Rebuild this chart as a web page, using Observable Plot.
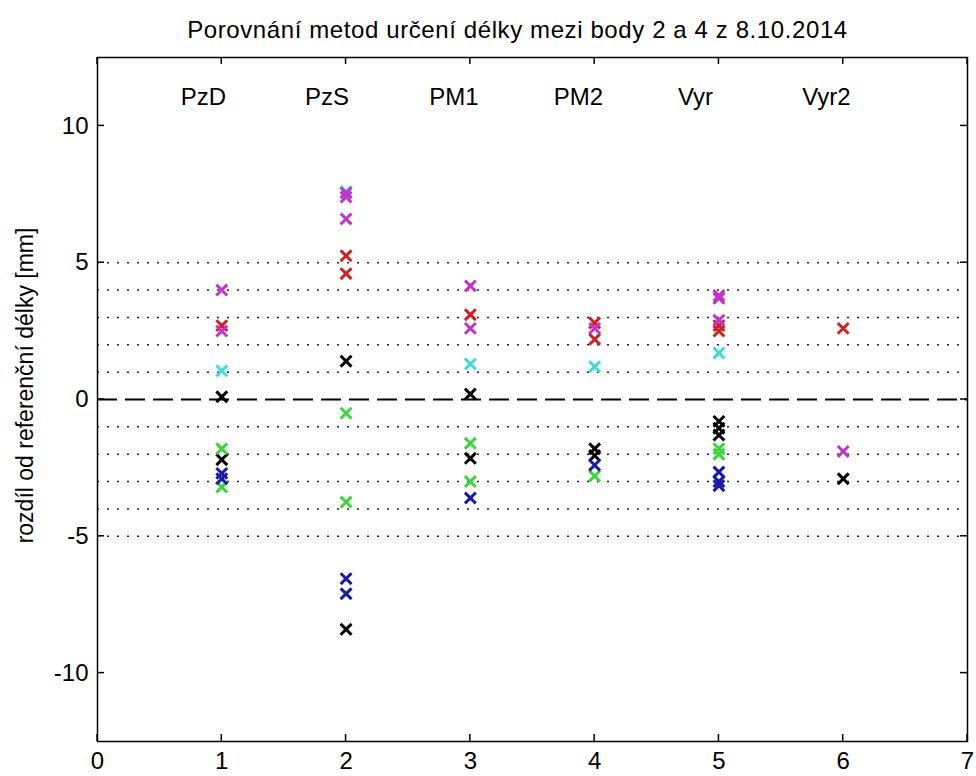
<!DOCTYPE html>
<html>
<head>
<meta charset="utf-8">
<script src="https://cdn.jsdelivr.net/npm/d3@7"></script>
<script src="https://cdn.jsdelivr.net/npm/@observablehq/plot@0.6"></script>
<style>
  body { margin: 0; background: #fff; }
</style>
</head>
<body>
<div id="chart"></div>
<script>
// Methods compared (x = 1..6)
const methods = ["PzD", "PzS", "PM1", "PM2", "Vyr", "Vyr2"];
const xTicks = [0, 1, 2, 3, 4, 5, 6, 7];
const yTicks = [-10, -5, 0, 5, 10];
const gridLevels = [-5, -4, -3, -2, -1, 1, 2, 3, 4, 5];
const titleText = "Porovnání metod určení délky mezi body 2 a 4 z 8.10.2014";
const yLabelText = "rozdíl od referenční délky [mm]";

// Differences from reference length [mm], one array per colour,
// each holding one list per method (PzD, PzS, PM1, PM2, Vyr, Vyr2)
const cyanVals    = [[1.05], [7.6], [1.3], [1.2], [1.7], []];
const redVals     = [[2.7], [5.25, 4.6], [3.1], [2.8, 2.2], [2.7, 2.5], [2.6]];
const magentaVals = [[4.0, 2.5], [7.55, 7.4, 6.6], [4.15, 2.6], [2.6], [3.8, 3.7, 2.9], [-1.9]];
const blackVals   = [[0.1, -2.2], [1.4, -8.4], [0.2, -2.15], [-1.8, -2.05], [-0.8, -1.05, -1.3], [-2.9]];
const greenVals   = [[-1.8, -3.2], [-0.5, -3.75], [-1.6, -3.0], [-2.8], [-1.8, -2.0], []];
const blueVals    = [[-2.7, -2.9], [-6.55, -7.1], [-3.6], [-2.4], [-2.65, -3.0, -3.15], []];

const seriesList = [cyanVals, redVals, magentaVals, blackVals, greenVals, blueVals];
const seriesColors = ["#40dcdc", "#d02020", "#c034c8", "#000000", "#3cd63c", "#1a1aa8"];

const points = [];
seriesList.forEach((series, s) => {
  series.forEach((vals, m) => {
    vals.forEach(v => points.push({method: m + 1, diff: v, color: seriesColors[s]}));
  });
});

const font = "'Liberation Sans', Arial, sans-serif";
const tickLen = 7;

const chart = Plot.plot({
  width: 976,
  height: 776,
  marginLeft: 97,
  marginRight: 9,
  marginTop: 57,
  marginBottom: 35,
  x: {domain: [0, 7]},
  y: {domain: [-12.5, 12.5]},
  color: {type: "identity"},
  style: {fontFamily: font, fontSize: "24px", background: "#fff", color: "#000"},
  marks: [
    // dotted reference levels
    Plot.ruleY(gridLevels, {stroke: "#222", strokeWidth: 1.5, strokeDasharray: "2,8"}),
    // zero line
    Plot.ruleY([0], {stroke: "#000", strokeWidth: 2, strokeDasharray: "20,8"}),
    // measurements
    Plot.dot(points, {x: "method", y: "diff", symbol: "times", r: 5, stroke: "color", strokeWidth: 3}),
    // method names
    Plot.text(methods, {x: (d, i) => i + 1, frameAnchor: "top", lineAnchor: "middle", textAnchor: "start", dx: -41, dy: 40, text: d => d, fontSize: 24}),
    // tick labels
    Plot.axisX({anchor: "bottom", ticks: xTicks, tickSize: 0, tickPadding: 10, tickFormat: d => String(d), label: null, fontSize: 24}),
    Plot.axisY({anchor: "left", ticks: yTicks, tickSize: 0, tickPadding: 9, tickFormat: d => String(d), label: null, fontSize: 24}),
    Plot.frame({stroke: "#000", strokeWidth: 1.5}),
    // title and y label
    Plot.text([titleText], {frameAnchor: "top", lineAnchor: "middle", dx: -15, dy: -27, text: d => d, fontSize: 24}),
    Plot.text([yLabelText], {frameAnchor: "left", textAnchor: "middle", lineAnchor: "middle", dx: -72, dy: -14, rotate: -90, text: d => d, fontSize: 23})
  ]
});

// inward tick marks on all four sides, placed with the plot's own scales
{
  const sx = chart.scale("x");
  const sy = chart.scale("y");
  const [xLeft, xRight] = sx.range;
  const [yBottom, yTop] = sy.range;
  const tickGroup = d3.select(chart).append("g")
    .attr("stroke", "#000")
    .attr("stroke-width", 1.5)
    .attr("fill", "none");
  xTicks.forEach(t => {
    const px = sx.apply(t);
    tickGroup.append("line").attr("x1", px).attr("x2", px).attr("y1", yBottom).attr("y2", yBottom - tickLen);
    tickGroup.append("line").attr("x1", px).attr("x2", px).attr("y1", yTop).attr("y2", yTop + tickLen);
  });
  yTicks.forEach(t => {
    const py = sy.apply(t);
    tickGroup.append("line").attr("x1", xLeft).attr("x2", xLeft + tickLen).attr("y1", py).attr("y2", py);
    tickGroup.append("line").attr("x1", xRight).attr("x2", xRight - tickLen).attr("y1", py).attr("y2", py);
  });
}

// slightly looser letter spacing for the title
d3.select(chart).selectAll("text")
  .filter(function () { return this.textContent === titleText; })
  .attr("letter-spacing", "0.6px");

document.getElementById("chart").appendChild(chart);
</script>
</body>
</html>
